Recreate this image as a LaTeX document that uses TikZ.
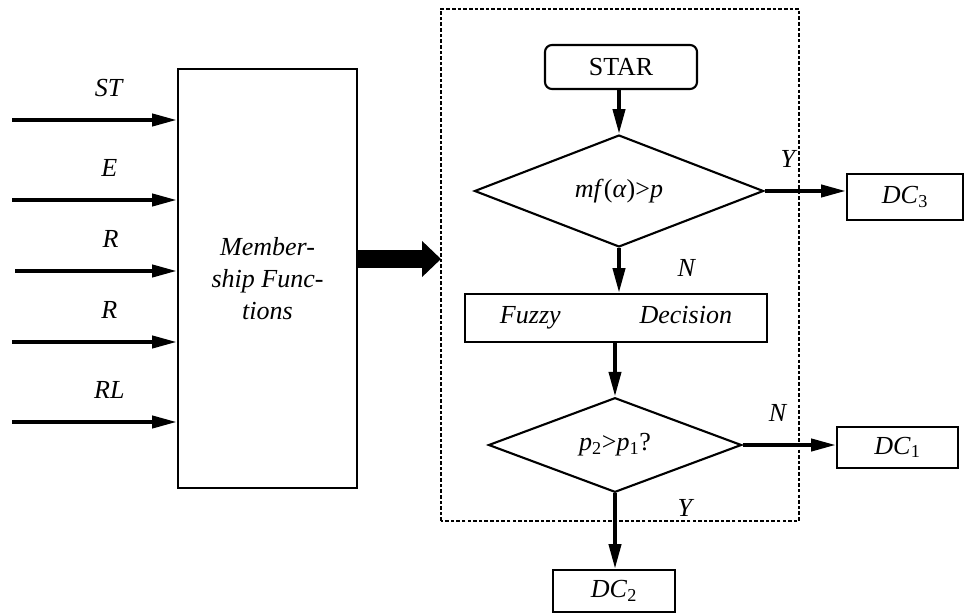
\documentclass[tikz,border=0pt]{standalone}
\usepackage{fontspec}
\setmainfont{Liberation Serif}
\usetikzlibrary{arrows.meta,positioning,shapes.geometric}
\tikzset{%
	startstop/.style= {draw, rectangle, rounded corners=5pt, line width=1.5pt, inner sep=0pt, text centered},
	process/.style  = {draw, rectangle, line width=1.5pt, inner sep=0pt, text centered},
	decision/.style = {draw, diamond, line width=1.5pt, inner sep=0pt, text centered},
	group/.style    = {draw, line width=1pt, dash pattern=on 2.5pt off 1.5pt},
	arrow/.style    = {line width=2.8pt, -{Triangle[length=0.62cm,width=0.3cm]}},
	bigarrow/.style = {line width=0.47cm, -{Triangle[length=0.475cm,width=0.875cm]}},
}

\begin{document}
\begin{tikzpicture}[x=0.025cm,y=0.025cm,font=\fontsize{18.5}{23}\selectfont]
	\useasboundingbox (0,0) rectangle (964,612);
	% membership block and its inputs
	\node[process, minimum width=4.475cm, minimum height=10.475cm, align=center] (mf) at (267.5,333.5)
		{\textit{Member-}\\\textit{ship Func-}\\\textit{tions}};
	\foreach \lab/\y/\xs [count=\n] in {ST/492/12, E/412/12, R/341/15, R/270/12, RL/190/12}
	{
		\coordinate (in\n) at (\xs,\y);
		\draw[arrow] (in\n) -- node[pos=0.59, above=0.42cm] {\textit{\lab}} (in\n -| mf.west);
	}
	% decision part
	\draw[group] (441,91) rectangle (799,603);
	\node[startstop, minimum width=3.8cm, minimum height=1.1cm] (star) at (621,545) {STAR};
	\node[decision, minimum width=7.225cm, minimum height=2.125cm] (d1) at (619,421) {\textit{mf}(\textit{α})>\textit{p}};
	\node[process, minimum width=2.9cm, minimum height=1.15cm] (dc3) at (905,415) {\textit{DC}\textsubscript{3}};
	\node[process, minimum width=7.55cm, minimum height=1.2cm, text width=5.8cm] (fuzzy) at (616,294) {\textit{Fuzzy}\hfill\textit{Decision}};
	\node[decision, minimum width=6.325cm, minimum height=2.125cm] (d2) at (615,167) {\textit{p}\textsubscript{2}>\textit{p}\textsubscript{1}?};
	\node[process, minimum width=3.025cm, minimum height=1.025cm] (dc1) at (897.5,164.5) {\textit{DC}\textsubscript{1}};
	\node[process, minimum width=3.05cm, minimum height=1.05cm] (dc2) at (614,21) {\textit{DC}\textsubscript{2}};
	% connectors
	\draw[bigarrow] (mf.east |- 0,353) -- (441,353);
	\draw[arrow] (star.south -| d1.north) -- (d1.north);
	\draw[arrow] (d1.east) -- node[pos=0.3, above=0.42cm] {\textit{Y}} (d1.east -| dc3.west);
	\draw[arrow] (d1.south) -- node[pos=0.45, right=1.3cm] {\textit{N}} (d1.south |- fuzzy.north);
	\draw[arrow] (fuzzy.south -| d2.north) -- (d2.north);
	\draw[arrow] (d2.east) -- node[pos=0.38, above=0.42cm] {\textit{N}} (d2.east -| dc1.west);
	\draw[arrow] (d2.south) -- node[pos=0.19, right=1.4cm] {\textit{Y}} (d2.south |- dc2.north);
\end{tikzpicture}
\end{document}
